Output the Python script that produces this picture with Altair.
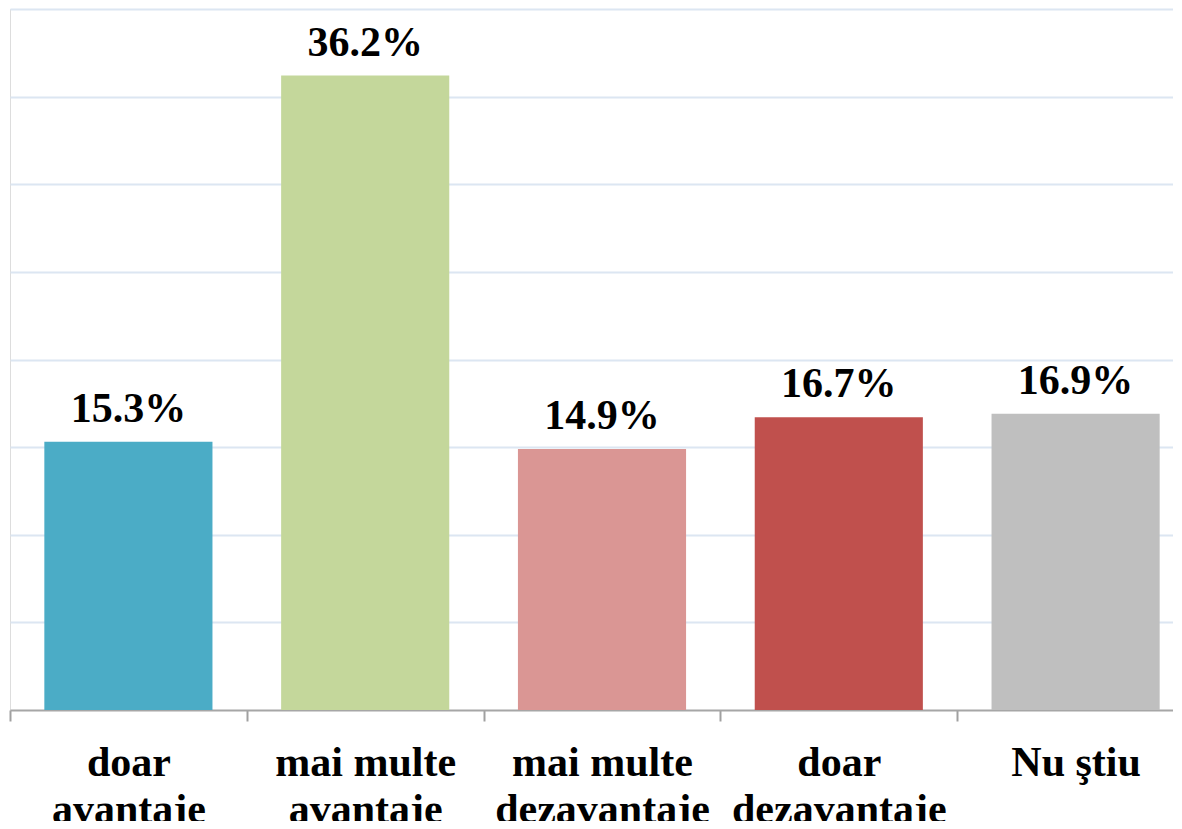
import json
import altair as alt
import pandas as pd

categories = ["doar avantaje", "mai multe avantaje", "mai multe dezavantaje",
              "doar dezavantaje", "Nu ştiu"]
label_lines = [["doar", "avantaje"], ["mai multe", "avantaje"],
               ["mai multe", "dezavantaje"], ["doar", "dezavantaje"], ["Nu ştiu"]]
values = [15.3, 36.2, 14.9, 16.7, 16.9]
value_labels = ["15.3%", "36.2%", "14.9%", "16.7%", "16.9%"]
colors = ["#4BACC6", "#C4D79B", "#DA9694", "#C0504D", "#BFBFBF"]

df = pd.DataFrame({"cat": categories, "val": values, "lbl": value_labels})

expr = ""
for c, ln in zip(categories, label_lines):
    expr += f"datum.value == {json.dumps(c)} ? {json.dumps(ln)} : "
expr += "datum.value"

FONT = "Liberation Serif"

x = alt.X(
    "cat:N", sort=categories, title=None,
    scale=alt.Scale(paddingInner=0, paddingOuter=0, range=[0, 1184]),
    axis=alt.Axis(
        labelExpr=expr, labelAngle=0, labelFont=FONT, labelFontSize=42,
        labelFontWeight="bold", labelColor="#000000", labelLineHeight=47,
        labelPadding=21, labelOverlap=False, labelBound=False, labelFlush=False,
        labelLimit=0,
        tickBand="extent", tickSize=11, tickColor="#A0A0A0", tickWidth=2,
        domainColor="#A6A6A6", domainWidth=2, grid=False,
    ),
)
y = alt.Y(
    "val:Q", title=None,
    scale=alt.Scale(domain=[0, 40], nice=False),
    axis=alt.Axis(values=[5, 10, 15, 20, 25, 30, 35, 40], labels=False, ticks=False,
                  domain=False, grid=True, gridColor="#DCE6F2", gridWidth=2),
)

bars = alt.Chart(df).mark_bar(width=alt.RelativeBandSize(0.71)).encode(
    x=x, y=y,
    color=alt.Color("cat:N", sort=categories,
                    scale=alt.Scale(domain=categories, range=colors), legend=None),
)
text = alt.Chart(df).mark_text(
    font=FONT, fontSize=42, fontWeight="bold", color="#000000", dy=-20,
    baseline="alphabetic",
).encode(x=alt.X("cat:N", sort=categories), y="val:Q", text="lbl:N")

chart = alt.layer(bars, text).properties(
    width=1163, height=701,
    autosize=alt.AutoSizeParams(type="none"),
    padding={"left": 2, "top": 1, "right": 0, "bottom": 111},
).configure_view(stroke=None).configure(background="#FFFFFF")

chart.save("out.html", embed_options={"renderer": "svg", "actions": False})
